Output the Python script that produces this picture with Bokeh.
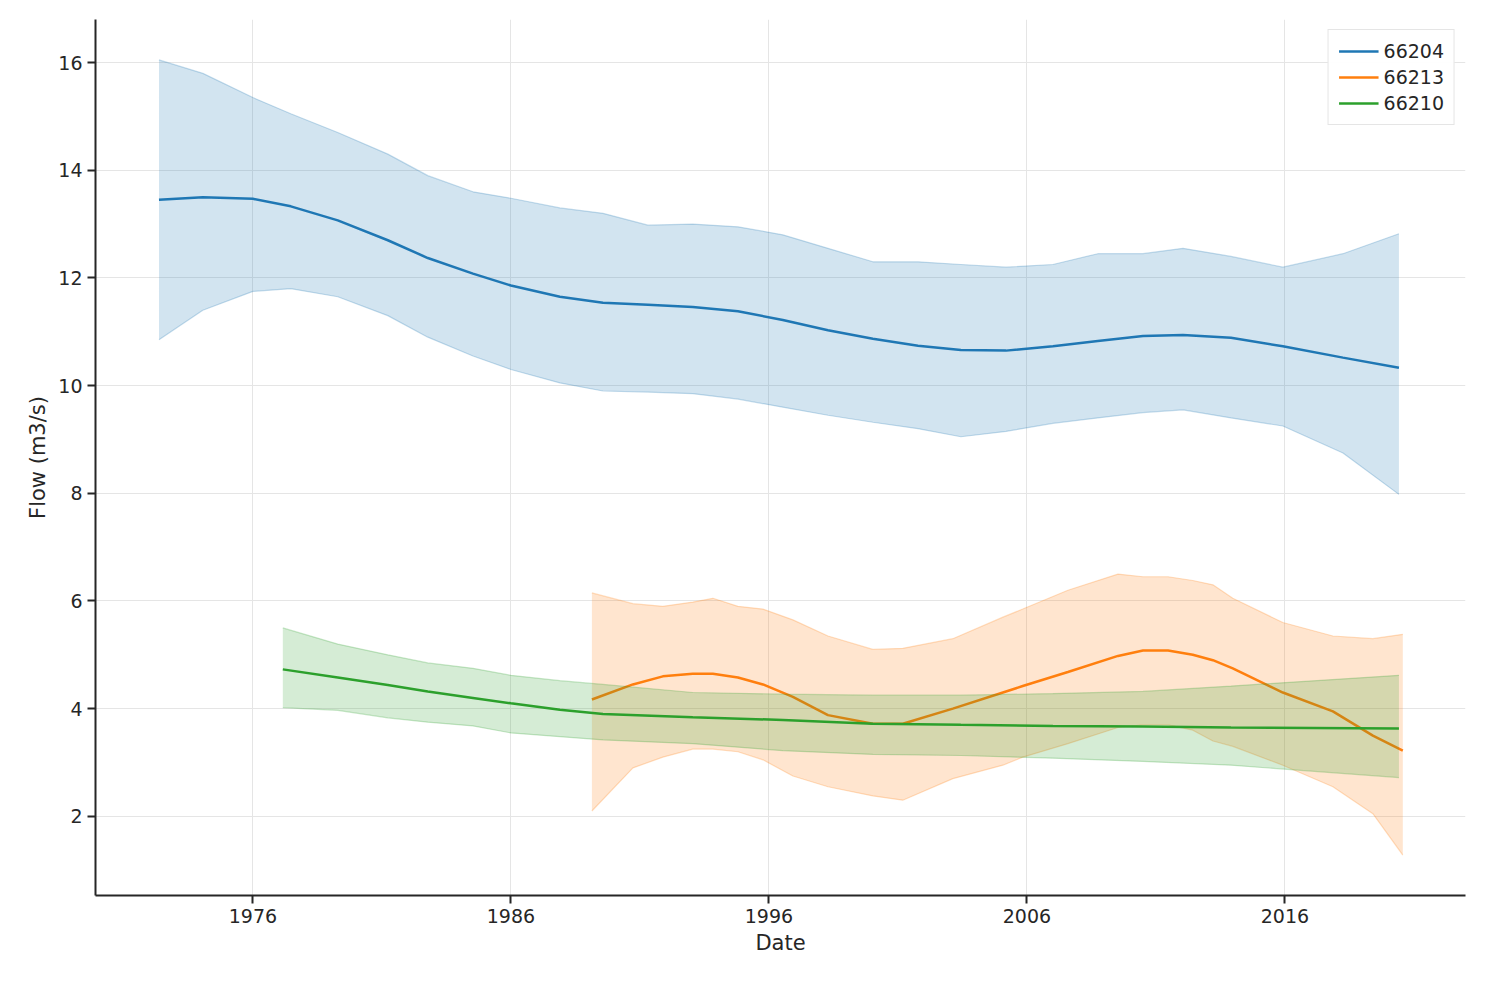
import numpy as np
from bokeh.plotting import figure
from bokeh.models import FixedTicker, Legend, LegendItem, Range1d
from bokeh.embed import file_html
from bokeh.resources import INLINE

# 66204
yr_a = [1972.36, 1974.06, 1976, 1977.47, 1979.29, 1981.23, 1982.78, 1984.53, 1986, 1987.9,
        1989.57, 1991.31, 1993.05, 1994.8, 1996.54, 1998.29, 2000.03, 2001.78, 2003.44, 2005.19,
        2007.01, 2008.75, 2010.5, 2012.05, 2013.91, 2015.92, 2018.25, 2020.42]
mean_a = [13.45, 13.5, 13.47, 13.33, 13.07, 12.7, 12.37, 12.08, 11.86, 11.65, 11.54, 11.5, 11.46,
          11.38, 11.22, 11.03, 10.87, 10.74, 10.66, 10.65, 10.73, 10.83, 10.92, 10.94, 10.89,
          10.73, 10.52, 10.33]
hi_a = [16.05, 15.8, 15.35, 15.05, 14.7, 14.3, 13.9, 13.6, 13.48, 13.3, 13.2, 12.98, 13.0, 12.95,
        12.8, 12.55, 12.3, 12.3, 12.25, 12.2, 12.25, 12.45, 12.45, 12.55, 12.4, 12.2, 12.45, 12.82]
lo_a = [10.85, 11.4, 11.75, 11.8, 11.65, 11.3, 10.9, 10.55, 10.3, 10.05, 9.9, 9.88, 9.85, 9.75,
        9.6, 9.45, 9.32, 9.2, 9.05, 9.15, 9.3, 9.4, 9.5, 9.55, 9.4, 9.25, 8.75, 7.98]

# 66213
yr_b = [1989.14, 1990.73, 1991.89, 1993.05, 1993.83, 1994.8, 1995.77, 1996.93, 1998.29, 2000.03,
        2001.19, 2003.13, 2005.07, 2005.84, 2007.59, 2009.53, 2010.5, 2011.47, 2012.43, 2013.21,
        2013.98, 2015.92, 2017.86, 2019.41, 2020.57]
mean_b = [4.17, 4.45, 4.6, 4.65, 4.65, 4.58, 4.45, 4.22, 3.88, 3.72, 3.72, 4.0, 4.3, 4.42, 4.68,
          4.98, 5.08, 5.08, 5.0, 4.9, 4.75, 4.3, 3.95, 3.5, 3.22]
hi_b = [6.15, 5.95, 5.9, 5.98, 6.05, 5.9, 5.85, 5.65, 5.35, 5.1, 5.12, 5.3, 5.7, 5.85, 6.2, 6.5,
        6.45, 6.45, 6.38, 6.3, 6.05, 5.6, 5.35, 5.3, 5.38]
lo_b = [2.1, 2.9, 3.1, 3.25, 3.25, 3.2, 3.05, 2.75, 2.55, 2.38, 2.3, 2.7, 2.95, 3.1, 3.35, 3.65,
        3.7, 3.7, 3.6, 3.4, 3.3, 2.95, 2.55, 2.05, 1.28]

# 66210
yr_c = [1977.16, 1979.29, 1981.23, 1982.78, 1984.53, 1986, 1987.9, 1989.57, 1993.05, 1996.54,
        2000.03, 2003.44, 2007.01, 2010.5, 2013.91, 2020.42]
mean_c = [4.73, 4.58, 4.44, 4.32, 4.2, 4.1, 3.98, 3.9, 3.84, 3.79, 3.72, 3.7, 3.68, 3.67, 3.65, 3.63]
hi_c = [5.5, 5.2, 5.0, 4.85, 4.75, 4.62, 4.52, 4.45, 4.3, 4.27, 4.25, 4.25, 4.28, 4.32, 4.42, 4.62]
lo_c = [4.02, 3.97, 3.83, 3.75, 3.68, 3.55, 3.48, 3.42, 3.35, 3.22, 3.15, 3.13, 3.08, 3.02, 2.95, 2.72]

series = [("66204", yr_a, mean_a, hi_a, lo_a, "#1f77b4"),
          ("66213", yr_b, mean_b, hi_b, lo_b, "#ff7f0e"),
          ("66210", yr_c, mean_c, hi_c, lo_c, "#2ca02c")]

p = figure(width=1484, height=984, output_backend="svg", toolbar_location=None,
           x_range=Range1d(1969.9, 2023.0), y_range=Range1d(0.53, 16.8),
           x_axis_label="Date", y_axis_label="Flow (m3/s)",
           min_border_left=95, min_border_top=19, min_border_right=19, min_border_bottom=89)
p.outline_line_color = None

items = []
for name, x, m, hi, lo, col in series:
    p.varea(x=x, y1=lo, y2=hi, fill_color=col, fill_alpha=0.2)
    p.line(x=x, y=hi, line_color=col, line_alpha=0.25, line_width=1.2)
    p.line(x=x, y=lo, line_color=col, line_alpha=0.25, line_width=1.2)
    r = p.line(x=x, y=m, line_color=col, line_width=2.5)
    items.append(LegendItem(label=name, renderers=[r]))

p.xaxis.ticker = FixedTicker(ticks=[1976, 1986, 1996, 2006, 2016])
p.yaxis.ticker = FixedTicker(ticks=[2, 4, 6, 8, 10, 12, 14, 16])
for ax in (p.xaxis, p.yaxis):
    ax.major_label_text_font = "DejaVu Sans"
    ax.major_label_text_font_size = "19px"
    ax.major_label_text_color = "#262626"
    ax.axis_label_text_font = "DejaVu Sans"
    ax.axis_label_text_font_size = "21px"
    ax.axis_label_text_font_style = "normal"
    ax.axis_label_text_color = "#262626"
    ax.axis_line_width = 2
    ax.axis_line_color = "#262626"
    ax.major_tick_line_color = "#262626"
    ax.major_tick_line_width = 2
    ax.major_tick_out = 8
    ax.major_tick_in = 0
    ax.minor_tick_line_color = None
p.grid.grid_line_color = "#e5e5e5"

leg = Legend(items=items, location="top_right", label_text_font="DejaVu Sans",
             label_text_font_size="19px", label_text_color="#262626",
             border_line_color="#cccccc", glyph_width=40, spacing=4, padding=10)
p.add_layout(leg)

open("out.html", "w").write(file_html(p, INLINE))
